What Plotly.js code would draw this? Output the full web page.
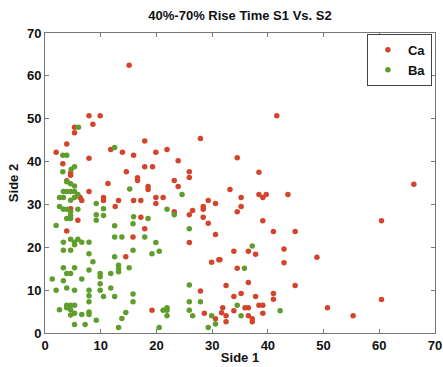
<!DOCTYPE html>
<html>
<head>
<meta charset="utf-8">
<script src="https://cdn.plot.ly/plotly-3.0.1.min.js"></script>
<style>html,body{margin:0;padding:0;background:#fff;}#chart{width:443px;height:367px;}</style>
</head>
<body>
<div id="chart"></div>
<script>
const chartTitle = "40%-70% Rise Time S1 Vs. S2";
const xTitle = "Side 1";
const yTitle = "Side 2";
const seriesNames = ["Ca", "Ba"];

const caX = [15.1,7.9,9.9,8.6,5.3,5.3,3.9,2.0,3.2,4.6,4.6,3.9,7.9,11.8,13.9,15.9,17.9,19.9,21.9,17.9,19.3,14.6,16.6,16.6,23.9,25.9,25.9,23.2,27.9,34.5,41.6,38.4,33.2,35.2,35.2,34.5,38.4,39.1,39.7,43.6,39.1,41.0,44.9,66.2,60.4,42.9,42.9,48.8,44.9,36.5,37.8,33.9,31.4,34.5,36.5,32.5,35.2,33.9,37.8,41.0,41.0,35.9,36.5,38.4,39.1,31.9,31.7,32.5,33.9,36.5,37.2,37.2,32.5,39.1,50.7,55.3,60.4,23.9,18.5,18.5,19.9,21.2,17.2,19.9,29.3,30.6,28.4,28.4,23.2,26.5,25.9,28.4,17.2,29.3,17.9,30.6,25.9,31.2,29.9,27.9,30.6,28.6,19.2,11.3,7.9,6.3,6.6,10.5,10.5,13.2,12.6,15.9,4.6,5.9,3.9,15.8,14.5];
const caY = [62.5,50.7,50.7,48.7,48.0,46.7,44.1,42.2,39.5,37.4,36.8,35.5,40.8,42.8,42.2,41.5,44.8,42.2,42.8,38.8,38.8,37.6,36.2,35.6,40.2,37.6,36.3,35.6,45.4,40.9,50.7,37.5,33.5,31.6,29.5,28.3,32.3,31.6,32.3,32.3,26.2,23.7,23.7,34.7,26.2,19.6,16.4,17.7,11.1,19.1,18.4,19.1,17.1,15.1,11.8,11.1,9.2,8.5,8.5,9.2,7.9,5.9,5.9,6.5,6.5,5.9,4.7,4.0,5.2,4.0,3.3,2.6,2.6,4.6,5.9,4.0,7.8,34.2,34.2,33.5,31.6,31.6,30.9,30.2,30.9,30.2,29.5,28.9,28.3,28.6,27.6,27.0,27.0,25.6,24.3,23.0,21.1,17.1,16.5,9.8,3.3,4.6,5.3,34.9,33.0,31.6,30.9,31.6,30.9,30.9,29.5,30.9,29.0,26.3,23.8,22.4,17.8];

const baX = [6.0,3.2,3.9,3.2,4.7,5.3,12.5,24.6,21.9,23.2,18.5,37.2,35.8,34.5,35.2,42.2,3.9,4.6,5.3,3.3,3.9,4.6,5.3,2.6,3.3,4.6,5.3,5.9,2.6,3.3,3.9,4.6,5.9,3.9,4.6,4.6,15.2,9.2,10.5,9.2,15.9,9.2,10.5,15.8,2.0,12.5,12.5,13.8,4.6,5.3,5.9,5.3,6.6,3.3,7.9,3.3,4.6,7.9,15.8,12.5,13.2,13.2,13.2,3.3,5.3,3.9,4.6,7.9,9.9,11.8,1.3,3.3,9.9,15.1,2.0,3.9,5.3,7.9,9.9,9.9,11.8,15.8,7.9,7.9,10.5,12.5,15.8,3.9,3.9,4.6,5.3,4.6,2.6,5.3,6.6,7.9,7.9,4.6,9.2,14.5,5.3,7.2,13.8,13.2,8.6,6.6,17.9,19.9,19.2,20.5,25.9,25.9,25.9,27.9,21.2,21.9,21.9,21.9,25.9,26.5,29.9,30.6,29.3,20.5];
const baY = [48.0,41.5,41.5,37.6,38.2,38.8,43.3,32.3,28.9,27.6,26.7,20.3,15.1,6.5,4.0,5.2,35.3,34.8,34.3,33.0,33.0,33.0,33.0,31.6,31.6,31.0,31.6,32.3,29.5,28.9,28.9,28.3,28.9,26.7,27.4,26.7,33.6,30.2,29.0,27.6,27.1,26.3,27.4,25.5,25.1,25.0,22.4,22.4,21.9,21.2,21.9,20.6,21.2,21.2,21.2,19.3,19.3,18.5,19.3,17.8,15.8,15.0,14.3,15.2,15.2,13.9,13.9,14.7,13.9,13.9,12.6,12.2,13.1,15.2,10.0,10.5,10.0,10.0,11.5,10.0,10.5,9.1,8.7,7.3,8.5,8.5,7.3,6.5,5.9,6.5,6.5,5.4,5.4,4.6,4.3,4.3,4.9,4.2,3.0,4.8,2.0,2.0,3.4,1.3,16.6,12.6,22.4,21.1,18.5,19.1,24.3,11.2,7.3,7.3,5.3,5.9,5.3,4.0,5.3,4.0,4.0,2.1,1.3,1.3];

const tickVals = [0,10,20,30,40,50,60,70];
const tickText = ["0","10","20","30","40","50","60","70"];

const tickFont = {family: "Liberation Sans, Arial, sans-serif", size: 13, color: "#111", weight: "bold"};
const titleFont = {family: "Liberation Sans, Arial, sans-serif", size: 13, color: "#111", weight: "bold"};

const traces = [
  {x: caX, y: caY, name: seriesNames[0], type: "scatter", mode: "markers",
   marker: {color: "#d4442b", size: 5.5, line: {width: 0}}},
  {x: baX, y: baY, name: seriesNames[1], type: "scatter", mode: "markers",
   marker: {color: "#5f9e2c", size: 5.5, line: {width: 0}}}
];

const axisCommon = {
  range: [0, 70], tickmode: "array", tickvals: tickVals, ticktext: tickText,
  ticks: "inside", ticklen: 4, tickcolor: "#777", tickwidth: 1,
  showline: true, linecolor: "#777", linewidth: 1, mirror: "ticks",
  showgrid: false, zeroline: false, tickfont: tickFont
};

const layout = {
  width: 443, height: 367,
  margin: {l: 45, r: 8, t: 33, b: 34},
  paper_bgcolor: "#fff", plot_bgcolor: "#fff",
  title: {text: chartTitle, font: titleFont, x: 0.5, xref: "paper", xanchor: "center", y: 0.958, yref: "container", yanchor: "middle"},
  xaxis: Object.assign({}, axisCommon, {title: {text: xTitle, font: tickFont, standoff: 1}}),
  yaxis: Object.assign({}, axisCommon, {title: {text: yTitle, font: tickFont, standoff: 5}}),
  showlegend: true,
  legend: {x: 0.992, y: 0.997, xanchor: "right", yanchor: "top", bgcolor: "#fff",
           bordercolor: "#444", borderwidth: 1, font: tickFont, itemwidth: 30,
           tracegroupgap: 0}
};

Plotly.newPlot("chart", traces, layout, {staticPlot: true, displayModeBar: false});
</script>
</body>
</html>
